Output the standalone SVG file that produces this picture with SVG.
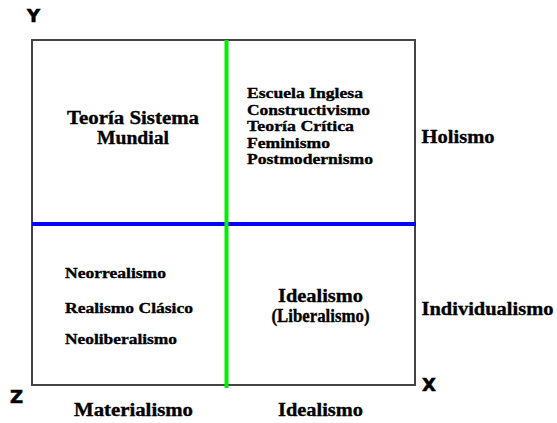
<svg xmlns="http://www.w3.org/2000/svg" width="557" height="423" viewBox="0 0 557 423">
<style>
.t{font-family:"Liberation Serif","Times New Roman",serif;font-weight:bold;fill:#000;stroke:#000;stroke-width:0.35;}
.ax{font-family:"DejaVu Sans","Liberation Sans",Arial,sans-serif;font-weight:bold;fill:#000;stroke:#000;stroke-width:0.6;font-size:18px;}
.frame{fill:#fff;stroke:#444;stroke-width:2;}
</style>
<rect width="557" height="423" fill="#fff"/>
<g id="frame">
<rect class="frame" x="32" y="40" width="383" height="345"/>
</g>
<g id="connectors">
<line x1="32" y1="224" x2="416" y2="224" stroke="#0000ff" stroke-width="4"/>
<line x1="226.5" y1="40" x2="226.5" y2="388" stroke="#00ee00" stroke-width="4"/>
</g>
<g id="axis-y"><text class="ax" x="27" y="22">Y</text></g>
<g id="axis-z"><text class="ax" x="10" y="403">Z</text></g>
<g id="axis-x"><text class="ax" x="422" y="391">X</text></g>
<g id="q-top-left">
<text class="t" font-size="18" x="133" y="124" text-anchor="middle" textLength="132" lengthAdjust="spacingAndGlyphs">Teoría Sistema</text>
<text class="t" font-size="18" x="133" y="144" text-anchor="middle" textLength="72" lengthAdjust="spacingAndGlyphs">Mundial</text>
</g>
<g id="q-top-right">
<text class="t" font-size="15.5" x="247" y="98" textLength="116" lengthAdjust="spacingAndGlyphs">Escuela Inglesa</text>
<text class="t" font-size="15.5" x="247" y="114.5" textLength="123" lengthAdjust="spacingAndGlyphs">Constructivismo</text>
<text class="t" font-size="15.5" x="247" y="131" textLength="107" lengthAdjust="spacingAndGlyphs">Teoría Crítica</text>
<text class="t" font-size="15.5" x="247" y="147.5" textLength="83" lengthAdjust="spacingAndGlyphs">Feminismo</text>
<text class="t" font-size="15.5" x="247" y="164" textLength="126" lengthAdjust="spacingAndGlyphs">Postmodernismo</text>
</g>
<g id="q-bottom-left">
<text class="t" font-size="15" x="65" y="278" textLength="101" lengthAdjust="spacingAndGlyphs">Neorrealismo</text>
<text class="t" font-size="15" x="65" y="312.5" textLength="128" lengthAdjust="spacingAndGlyphs">Realismo Clásico</text>
<text class="t" font-size="15" x="65" y="344" textLength="112" lengthAdjust="spacingAndGlyphs">Neoliberalismo</text>
</g>
<g id="q-bottom-right">
<text class="t" font-size="18" x="320.5" y="302" text-anchor="middle" textLength="85" lengthAdjust="spacingAndGlyphs">Idealismo</text>
<text class="t" font-size="18" x="320.5" y="322" text-anchor="middle" textLength="98" lengthAdjust="spacingAndGlyphs">(Liberalismo)</text>
</g>
<g id="label-holismo"><text class="t" font-size="18.5" x="421.5" y="142.5" textLength="73" lengthAdjust="spacingAndGlyphs">Holismo</text></g>
<g id="label-individualismo"><text class="t" font-size="18.5" x="421.5" y="315" textLength="132" lengthAdjust="spacingAndGlyphs">Individualismo</text></g>
<g id="label-materialismo"><text class="t" font-size="18.5" x="74" y="416" textLength="119" lengthAdjust="spacingAndGlyphs">Materialismo</text></g>
<g id="label-idealismo"><text class="t" font-size="18.5" x="278" y="416" textLength="85" lengthAdjust="spacingAndGlyphs">Idealismo</text></g>
</svg>
